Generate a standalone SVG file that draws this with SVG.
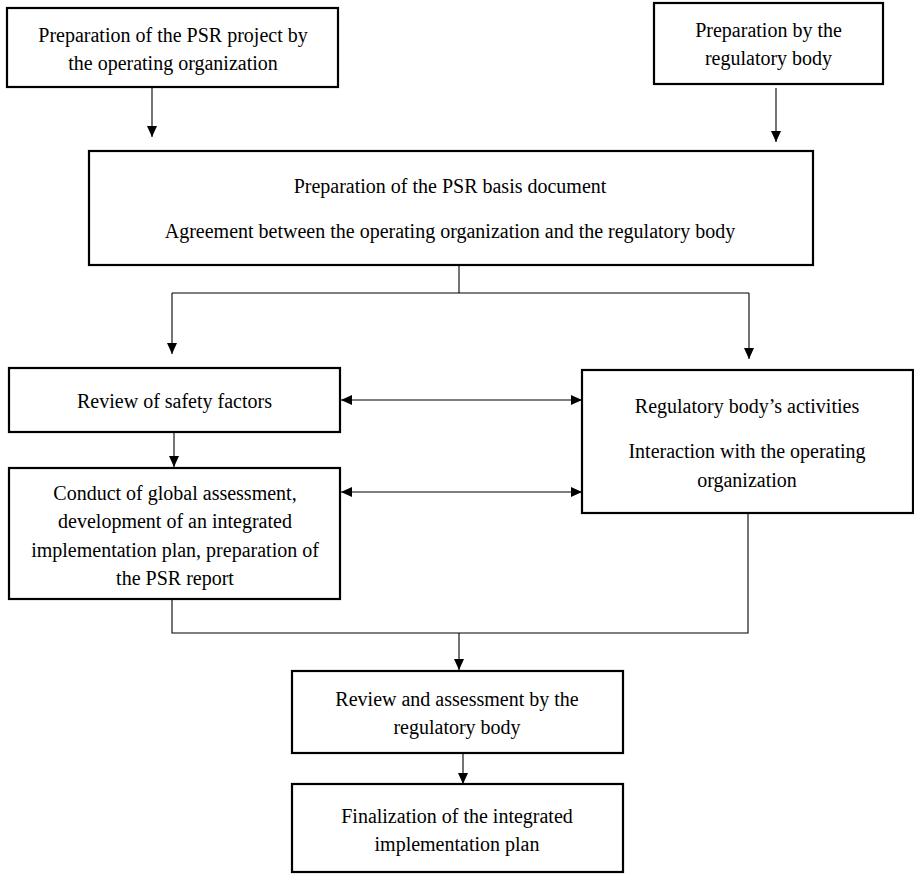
<svg xmlns="http://www.w3.org/2000/svg" width="914" height="875" viewBox="0 0 914 875">
<defs>
<style>
.box{fill:#fff;stroke:#000;stroke-width:2.2}
.lbl{font-family:"Liberation Serif","Times New Roman",serif;font-size:20px;fill:#000;text-anchor:middle}
.ln{fill:none;stroke:#000;stroke-width:1.1}
.arr{marker-end:url(#ah)}
.bi{marker-start:url(#ah);marker-end:url(#ah)}
</style>
<marker id="ah" markerUnits="userSpaceOnUse" markerWidth="11" markerHeight="10" refX="11" refY="5" orient="auto-start-reverse">
<path d="M0,0 L11,5 L0,10 z" fill="#000"/>
</marker>
</defs>
<rect width="914" height="875" fill="#fff"/>
<g id="connectors">
<path class="ln arr" d="M152,88 V137"/>
<path class="ln arr" d="M776,88 V142"/>
<path class="ln" d="M459,265 V293"/>
<path class="ln" d="M172,293 H749"/>
<path class="ln arr" d="M172,293 V354"/>
<path class="ln arr" d="M749,293 V359"/>
<path class="ln arr" d="M174,432 V467"/>
<path class="ln bi" d="M341,400 H582"/>
<path class="ln bi" d="M341,492 H582"/>
<path class="ln" d="M172,599 V633 H748 V513"/>
<path class="ln arr" d="M459,633 V670"/>
<path class="ln arr" d="M463,753 V784"/>
</g>
<g id="n1">
<rect class="box" x="7" y="8" width="331" height="79"/>
<text class="lbl" x="173" y="42">Preparation of the PSR project by</text>
<text class="lbl" x="173" y="70">the operating organization</text>
</g>
<g id="n2">
<rect class="box" x="654" y="3" width="229" height="81"/>
<text class="lbl" x="768.5" y="37">Preparation by the</text>
<text class="lbl" x="768.5" y="65">regulatory body</text>
</g>
<g id="n3">
<rect class="box" x="89" y="151" width="724" height="114"/>
<text class="lbl" x="450" y="193">Preparation of the PSR basis document</text>
<text class="lbl" x="450" y="238">Agreement between the operating organization and the regulatory body</text>
</g>
<g id="n4">
<rect class="box" x="9" y="368" width="331" height="64"/>
<text class="lbl" x="174.5" y="408">Review of safety factors</text>
</g>
<g id="n5">
<rect class="box" x="9" y="468" width="331" height="131"/>
<text class="lbl" x="175" y="500">Conduct of global assessment,</text>
<text class="lbl" x="175" y="528">development of an integrated</text>
<text class="lbl" x="175" y="557">implementation plan, preparation of</text>
<text class="lbl" x="175" y="585">the PSR report</text>
</g>
<g id="n6">
<rect class="box" x="582" y="370" width="331" height="143"/>
<text class="lbl" x="747" y="413">Regulatory body’s activities</text>
<text class="lbl" x="747" y="458">Interaction with the operating</text>
<text class="lbl" x="747" y="487">organization</text>
</g>
<g id="n7">
<rect class="box" x="292" y="671" width="331" height="82"/>
<text class="lbl" x="457" y="706">Review and assessment by the</text>
<text class="lbl" x="457" y="734">regulatory body</text>
</g>
<g id="n8">
<rect class="box" x="292" y="784" width="331" height="88"/>
<text class="lbl" x="457" y="823">Finalization of the integrated</text>
<text class="lbl" x="457" y="851">implementation plan</text>
</g>
</svg>
